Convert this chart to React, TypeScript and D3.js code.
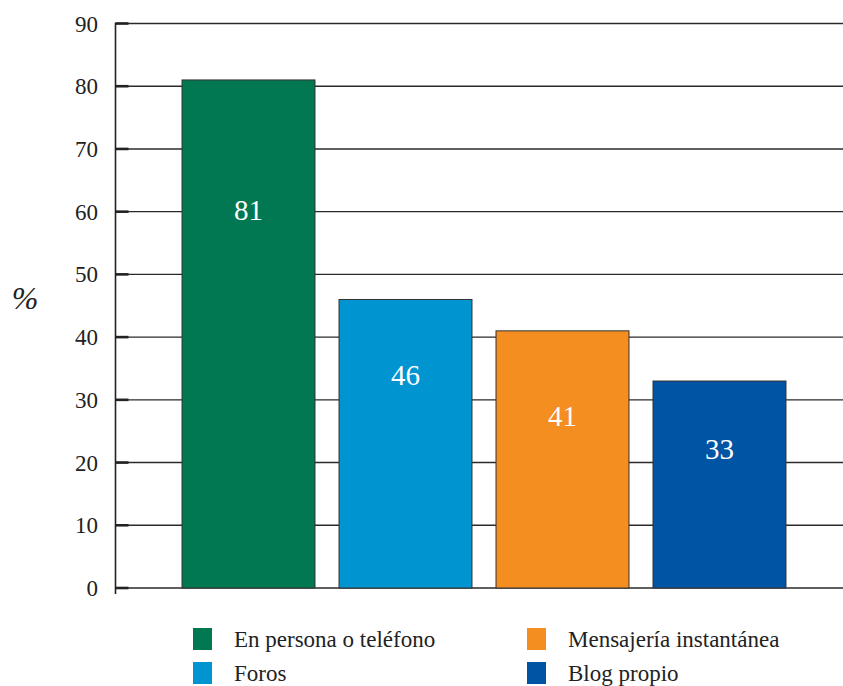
import * as d3 from 'd3';
import React, { useEffect, useRef } from 'react';

const categories = ['En persona o teléfono', 'Foros', 'Mensajería instantánea', 'Blog propio'];
const values = [81, 46, 41, 33];
const colors = ['#027852', '#0094d0', '#f48e20', '#0054a4'];
const yTicks = [0, 10, 20, 30, 40, 50, 60, 70, 80, 90];

const W = 843;
const H = 686;
const FONT =
  "'Liberation Serif', Tinos, 'Times New Roman', Times, 'Nimbus Roman', 'Noto Serif', 'DejaVu Serif', FreeSerif, serif";
// how far down each value label sits inside its bar (fraction of bar height)
const labelDrop = [0.255, 0.26, 0.33, 0.33];

export default function App() {
  const ref = useRef<SVGSVGElement>(null);

  useEffect(() => {
    drawChart();
  }, []);

  function drawChart() {
    const svg = d3.select(ref.current);
    svg.selectAll('*').remove();

    const axisX = 115.5;
    const yScale = d3.scaleLinear().domain([0, 90]).range([588, 23.5]);
    const xScale = d3
      .scaleBand<string>()
      .domain(categories)
      .range([158, 810])
      .padding(0.153);

    // gridlines
    svg
      .append('g')
      .selectAll('line')
      .data(yTicks)
      .join('line')
      .attr('x1', axisX)
      .attr('x2', W)
      .attr('y1', (d) => yScale(d))
      .attr('y2', (d) => yScale(d))
      .attr('stroke', '#2a2a2a')
      .attr('stroke-width', 1.4);

    // thick tick marks
    svg
      .append('g')
      .selectAll('line')
      .data(yTicks)
      .join('line')
      .attr('x1', axisX)
      .attr('x2', axisX + 13)
      .attr('y1', (d) => yScale(d))
      .attr('y2', (d) => yScale(d))
      .attr('stroke', '#222')
      .attr('stroke-width', 2.6);

    // tick labels
    svg
      .append('g')
      .selectAll('text')
      .data(yTicks)
      .join('text')
      .attr('x', 98)
      .attr('y', (d) => yScale(d))
      .attr('dy', '0.35em')
      .attr('text-anchor', 'end')
      .attr('font-size', 23)
      .attr('fill', '#222')
      .text((d) => d);

    // y axis line
    svg
      .append('line')
      .attr('x1', axisX)
      .attr('x2', axisX)
      .attr('y1', yScale(90) - 0.7)
      .attr('y2', 594)
      .attr('stroke', '#222')
      .attr('stroke-width', 1.6);

    // y axis title
    svg
      .append('text')
      .attr('x', 25)
      .attr('y', 298)
      .attr('dy', '0.35em')
      .attr('text-anchor', 'middle')
      .attr('font-style', 'italic')
      .attr('font-size', 32)
      .attr('fill', '#222')
      .text('%');

    // bars
    svg
      .append('g')
      .selectAll('rect')
      .data(values)
      .join('rect')
      .attr('x', (d, i) => xScale(categories[i])!)
      .attr('y', (d) => yScale(d))
      .attr('width', xScale.bandwidth())
      .attr('height', (d) => yScale(0) - yScale(d))
      .attr('fill', (d, i) => colors[i])
      .attr('stroke', '#333')
      .attr('stroke-width', 1);

    // bar value labels
    svg
      .append('g')
      .selectAll('text')
      .data(values)
      .join('text')
      .attr('x', (d, i) => xScale(categories[i])! + xScale.bandwidth() / 2)
      .attr('y', (d, i) => yScale(d) + (yScale(0) - yScale(d)) * labelDrop[i])
      .attr('dy', '0.35em')
      .attr('text-anchor', 'middle')
      .attr('font-size', 29)
      .attr('fill', '#fff')
      .text((d) => d);

    // legend
    const legendPos = [
      [193, 628],
      [193, 662],
      [527, 628],
      [527, 662],
    ];
    const lg = svg
      .append('g')
      .selectAll('g')
      .data([0, 1, 2, 3])
      .join('g')
      .attr('transform', (d) => `translate(${legendPos[d][0]},${legendPos[d][1]})`);
    lg.append('rect')
      .attr('width', 19)
      .attr('height', 22)
      .attr('fill', (d) => colors[d]);
    lg.append('text')
      .attr('x', 41)
      .attr('y', 11)
      .attr('dy', '0.35em')
      .attr('font-size', 23)
      .attr('fill', '#222')
      .text((d) => categories[d]);
  }

  return (
    <svg
      ref={ref}
      width={W}
      height={H}
      fontFamily={FONT}
      style={{ position: 'absolute', left: 0, top: 0, background: '#fff', fontFamily: FONT }}
    />
  );
}
